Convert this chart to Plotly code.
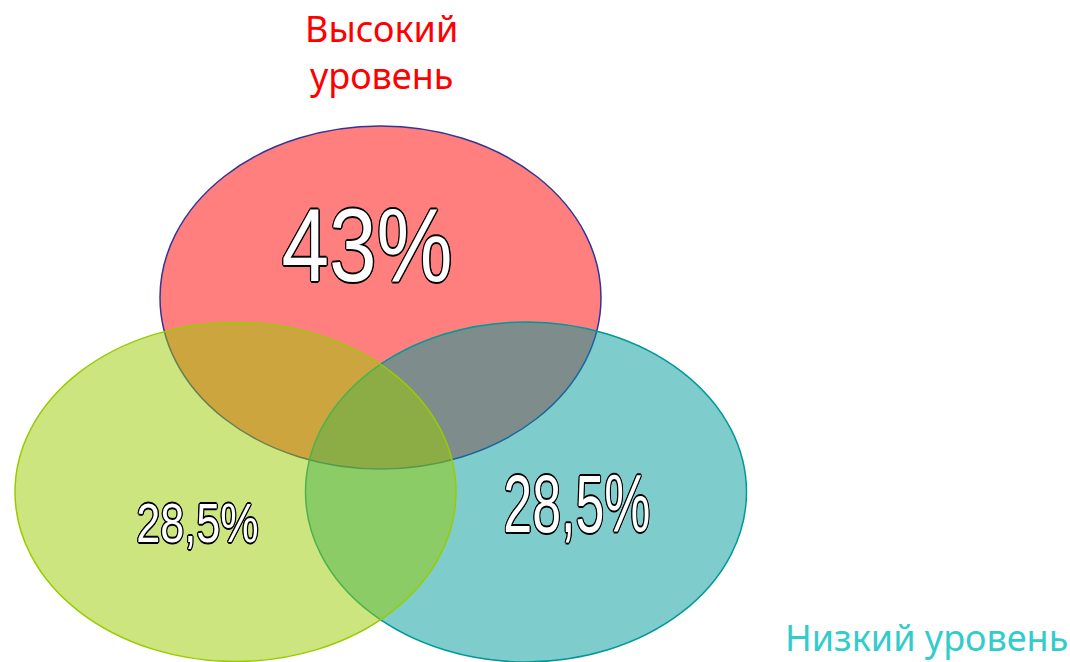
import plotly.graph_objects as go

# Data
groups = ["Высокий уровень", "Средний уровень", "Низкий уровень"]
values = [43, 28.5, 28.5]
value_labels = ["43%", "28,5%", "28,5%"]

fill_colors = ["rgba(255,0,0,0.5)", "rgba(153,204,0,0.5)", "rgba(0,153,153,0.5)"]
line_colors = ["#333399", "#99CC00", "#009999"]

# geometry (page-pixel-like coordinates, y downward)
centers = [(380.5, 297.5), (235.5, 492), (526, 492)]
radii = [(220.5, 171.5), (220.5, 169.5), (220.5, 170)]

fig = go.Figure()
fig.add_trace(go.Scatter(x=[0, 1070], y=[0, 662], mode="markers",
                         marker=dict(opacity=0), hoverinfo="skip", showlegend=False))

draw_order = [0, 2, 1]
for i in draw_order:
    cx, cy = centers[i]
    rx, ry = radii[i]
    fig.add_shape(type="circle", xref="x", yref="y",
                  x0=cx - rx, x1=cx + rx, y0=cy - ry, y1=cy + ry,
                  fillcolor=fill_colors[i], line=dict(color=line_colors[i], width=1.5),
                  layer="above")

outline = ",".join(f"{dx}px {dy}px 0 #000" for dx, dy in
                   [(-1.5, 0), (1.5, 0), (0, -1.5), (0, 1.5), (-1, -1), (1, 1), (-1, 1), (1, -1)])
num_font = "Liberation Sans, Arial, sans-serif"

# (x, y, font size) per value label
label_pos = [(367, 245, 103), (197, 522, 56), (577, 504, 81)]
for lab, (x, y, s) in zip(value_labels, label_pos):
    fig.add_annotation(x=x, y=y, xref="x", yref="y", text=lab, showarrow=False,
                       font=dict(family=num_font, size=s, color="white", shadow=outline),
                       xanchor="center", yanchor="middle")

hand = "Comic Sans MS, Noto Sans, sans-serif"
fig.add_annotation(x=381, y=52, xref="x", yref="y",
                   text=groups[0].replace(" ", "<br>"), showarrow=False,
                   font=dict(family=hand, size=36, color="#FF0000"),
                   xanchor="center", yanchor="middle")
fig.add_annotation(x=926.5, y=637, xref="x", yref="y", text=groups[2], showarrow=False,
                   font=dict(family=hand, size=36, color="#33CCCC"),
                   xanchor="center", yanchor="middle")

fig.update_xaxes(range=[0, 1070], visible=False, fixedrange=True)
fig.update_yaxes(range=[662, 0], visible=False, fixedrange=True)
fig.update_layout(width=1070, height=662, margin=dict(l=0, r=0, t=0, b=0),
                  paper_bgcolor="white", plot_bgcolor="white", showlegend=False)

# remove page margin and horizontally condense the value labels as in the original
post = """
document.body.style.margin='0';
document.body.style.overflow='hidden';
var gd=document.getElementById('{plot_id}');
var sc={'0':0.83,'1':0.77,'2':0.64};
gd.querySelectorAll('g.annotation').forEach(function(g){
  var i=g.getAttribute('data-index');
  if(sc[i]!==undefined){
    var t=g.querySelector('text.annotation-text');
    if(t){t.style.transformBox='fill-box';t.style.transformOrigin='center';
          t.style.transform='scaleX('+sc[i]+')';}
  }
});
"""

fig.write_html("out.html", config={"displayModeBar": False}, post_script=post)
